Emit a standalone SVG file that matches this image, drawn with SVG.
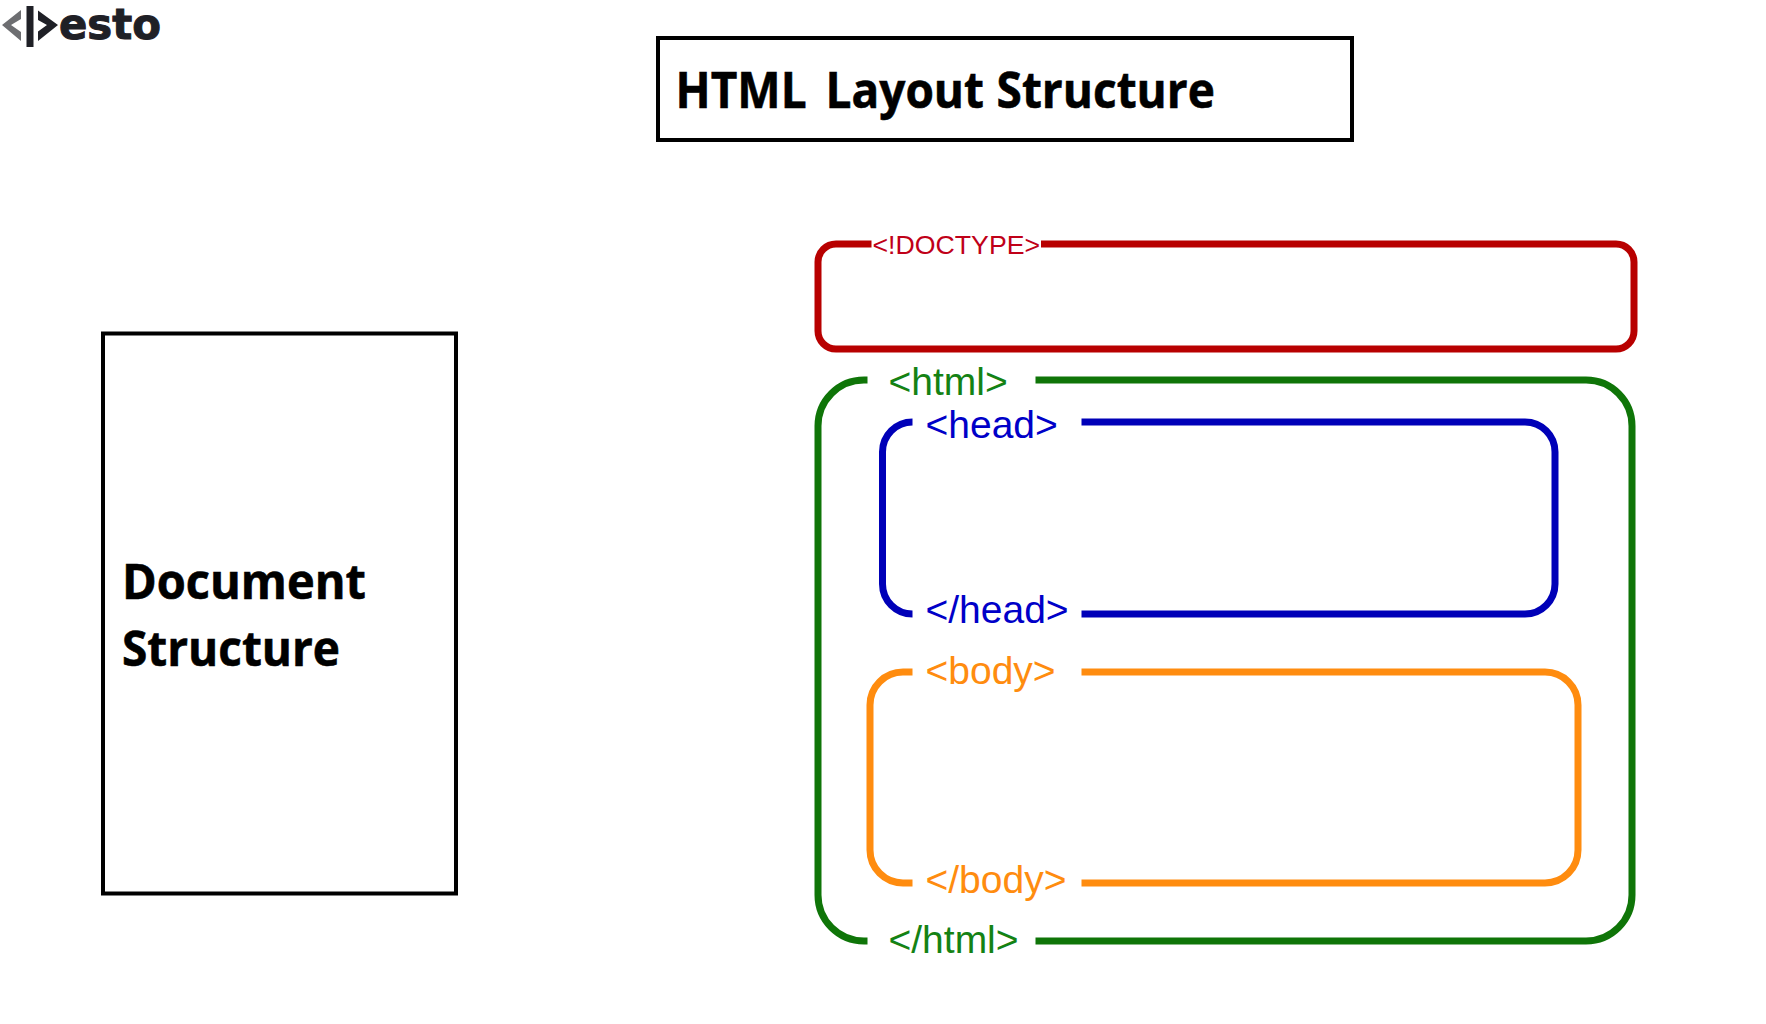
<svg xmlns="http://www.w3.org/2000/svg" width="1766" height="1024" viewBox="0 0 1766 1024">
<style>
.box{fill:none;stroke:#000;stroke-width:4}
.frame{fill:none;stroke-width:7}
.tag{font-family:"Liberation Sans",Arial,sans-serif;font-size:39px}
.head{font-family:"Open Sans","Noto Sans",sans-serif;font-weight:700;fill:#000;stroke:#000;stroke-width:.6}
.red{stroke:#b80000}.green{stroke:#0f7508}.blue{stroke:#0000b8}.orange{stroke:#ff8c0f}
</style>
<rect width="1766" height="1024" fill="#fff"/>
<g id="logo">
<polygon points="2,25 21,10 21,19 11,25 21,32 21,41" fill="#6d6e71"/>
<rect x="26.500" y="6" width="7" height="41" fill="#1f2026"/>
<polygon points="58,25 38,10.500 38,20 47,25 38,31.500 38,41" fill="#1f2026"/>
<text x="59" y="39" font-family="'DejaVu Sans',sans-serif" font-weight="700" font-size="42" textLength="102" lengthAdjust="spacingAndGlyphs" fill="#1f2026" stroke="#1f2026" stroke-width="1">esto</text>
</g>
<g id="title">
<rect class="box" x="658" y="38" width="694" height="102"/>
<text class="head" transform="translate(675.500 108) scale(.92 1)" font-size="50"><tspan x="0">HTML</tspan> <tspan x="163">Layout</tspan> <tspan x="349">Structure</tspan></text>
</g>
<g id="document">
<rect class="box" x="103" y="333.500" width="353" height="560"/>
<text class="head" x="122" y="599" font-size="48" textLength="244" lengthAdjust="spacingAndGlyphs">Document</text>
<text class="head" x="122" y="666" font-size="48" textLength="218" lengthAdjust="spacingAndGlyphs">Structure</text>
</g>
<g id="doctype">
<path class="frame red" d="M871.500 244H836A18 18 0 0 0 818 262V331A18 18 0 0 0 836 349H1616A18 18 0 0 0 1634 331V262A18 18 0 0 0 1616 244H1041"/>
<text x="872.500" y="254" font-family="'Liberation Sans',Arial,sans-serif" font-size="26.7" fill="#c00018">&lt;!DOCTYPE&gt;</text>
</g>
<g id="html">
<path class="frame green" d="M867.500 380H864A46 46 0 0 0 818 426V895A46 46 0 0 0 864 941H867.500M1035.500 941H1586A46 46 0 0 0 1632 895V426A46 46 0 0 0 1586 380H1035.500"/>
<text class="tag" x="888.500" y="395" fill="#148214">&lt;html&gt;</text>
<text class="tag" x="888.500" y="953" fill="#148214">&lt;/html&gt;</text>
</g>
<g id="head">
<path class="frame blue" d="M912.500 422A30 30 0 0 0 882.500 452V584A30 30 0 0 0 912.500 614M1081.500 614H1525A30 30 0 0 0 1555 584V452A30 30 0 0 0 1525 422H1081.500"/>
<text class="tag" x="925.500" y="438" fill="#0000c8">&lt;head&gt;</text>
<text class="tag" x="925.500" y="623" fill="#0000c8">&lt;/head&gt;</text>
</g>
<g id="body">
<path class="frame orange" d="M912.500 672H903A33 33 0 0 0 870 705V850A33 33 0 0 0 903 883H912.500M1081.500 883H1545A33 33 0 0 0 1578 850V705A33 33 0 0 0 1545 672H1081.500"/>
<text class="tag" x="925.500" y="684" fill="#ff8c0f">&lt;body&gt;</text>
<text class="tag" x="925.500" y="893" fill="#ff8c0f">&lt;/body&gt;</text>
</g>
<g id="connectors"/>
</svg>
